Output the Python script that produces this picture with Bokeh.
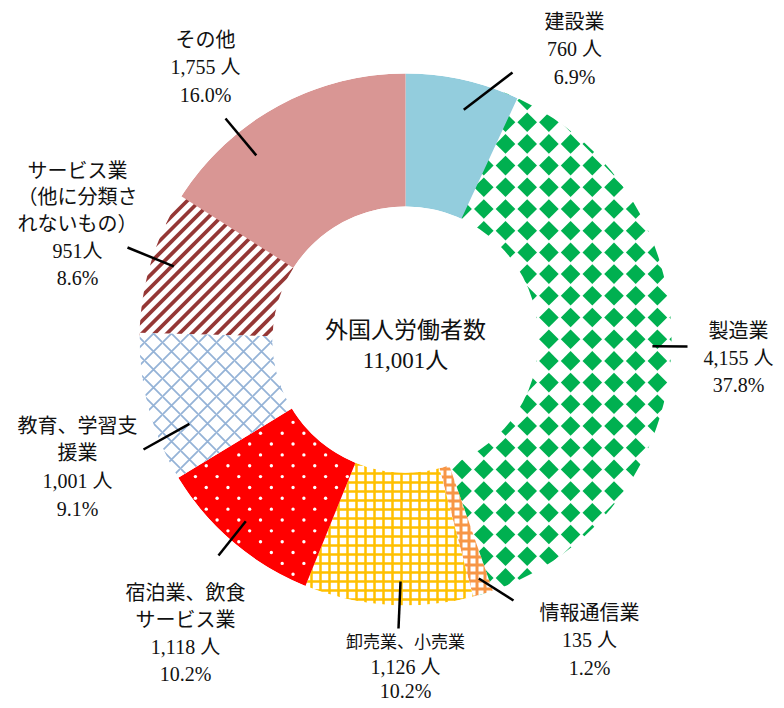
import math
from bokeh.plotting import figure
from bokeh.models import Range1d
from bokeh.core.properties import value
from bokeh.embed import file_html
from bokeh.resources import INLINE

# ---------------- data ----------------
categories = ["建設業", "製造業", "情報通信業", "卸売業、小売業",
              "宿泊業、飲食サービス業", "教育、学習支援業",
              "サービス業（他に分類されないもの）", "その他"]
workers = [760, 4155, 135, 1126, 1118, 1001, 951, 1755]
name_lines = [["建設業"], ["製造業"], ["情報通信業"], ["卸売業、小売業"],
              ["宿泊業、飲食", "サービス業"], ["教育、学習支", "援業"],
              ["サービス業", "（他に分類さ", "れないもの）"], ["その他"]]
unit_sep = [" ", " ", " ", " ", " ", " ", "", " "]
center_title = "外国人労働者数"
unit = "人"

# ---------------- layout / style ----------------
W, H = 776, 700
def sy(y):
    return H - y

CXS, CYS = 405, 339          # centre in screen pixels
CX, CY = CXS, sy(CYS)
R_OUT, R_IN = 266, 133
FONT = "Liberation Serif, Noto Sans CJK JP"
TXT = "#111111"

label_pos = [(574, 21), (738, 330), (589, 612), (405, 642),
             (185, 592), (77, 425), (77, 170), (205, 39)]
label_gap = [27.5, 27.0, 27.5, 24.0, 27.0, 27.7, 26.8, 27.5]
first_size = ["20px", "20px", "20px", "17px", "20px", "20px", "20px", "20px"]
leader_off = [1.8, -1.3, -0.1, -2.5, 0.9, -6.4, 0.5, -10.3]
leader_r = [237, 247, 250, 242, 242, 232, 243, 237]
leader_end = [(512, 72), (687, 346), (513, 600), (398, 628),
              (218, 555), (143, 449), (127, 247), (225, 118)]

styles = [
    dict(kind="solid", fill="#93CDDD"),
    dict(kind="diamond", fill="#FFFFFF", pc="#00B050", step=21.7, ox=526.7, oy=121.7, half=9.8),
    dict(kind="hatch", fill="#FFFFFF", pat="cross", pc="#F79646", hs=8, hw=3),
    dict(kind="hatch", fill="#FFFFFF", pat="cross", pc="#FFC000", hs=9, hw=2.5),
    dict(kind="dots", fill="#FF0000", pc="#FFFFFF", step=21.7, ox=260.0, oy=432.7, rad=1.7),
    dict(kind="hatch", fill="#FFFFFF", pat="diagonal_cross", pc="#95B3D7", hs=18, hw=1.8),
    dict(kind="stripes", fill="#FFFFFF", pc="#953735", step=12.5, lw=3.8),
    dict(kind="solid", fill="#D99694"),
]

p = figure(width=W, height=H, output_backend="svg", toolbar_location=None,
           x_range=Range1d(0, W), y_range=Range1d(0, H),
           min_border=0, outline_line_color=None)
p.axis.visible = False
p.grid.visible = False
p.background_fill_color = "white"
p.border_fill_color = "white"

total = sum(workers)
fr0, fr1 = [], []
cum = 0
for v in workers:
    fr0.append(cum / total)
    cum += v
    fr1.append(cum / total)


def inside(xs, ys, i, pad=0.0):
    dx, dy = xs - CXS, ys - CYS
    r = math.hypot(dx, dy)
    if r < R_IN + pad or r > R_OUT - pad:
        return False
    a = (math.atan2(dx, -dy) / (2 * math.pi)) % 1.0
    return fr0[i] <= a <= fr1[i]


def wedge(i):
    st = styles[i]
    kw = dict(x=CX, y=CY, inner_radius=R_IN, outer_radius=R_OUT,
              start_angle=math.pi / 2 - 2 * math.pi * fr0[i],
              end_angle=math.pi / 2 - 2 * math.pi * fr1[i],
              direction="clock", fill_color=st["fill"], line_color=None)
    if st["kind"] == "hatch":
        kw.update(hatch_pattern=st["pat"], hatch_color=st["pc"],
                  hatch_scale=st["hs"], hatch_weight=st["hw"])
    p.annular_wedge(**kw)


def near(xs, ys, i, reach):
    for ddx in (-reach, 0, reach):
        for ddy in (-reach, 0, reach):
            if inside(xs + ddx, ys + ddy, i):
                return True
    return False


def diamonds(i):
    st = styles[i]
    s, h = st["step"], st["half"]
    xs_, ys_ = [], []
    ni = int(2 * R_OUT / s) + 3
    i0 = math.floor((CXS - R_OUT - st["ox"]) / s) - 1
    j0 = math.floor((CYS - R_OUT - st["oy"]) / s) - 1
    for a in range(i0, i0 + ni):
        for b in range(j0, j0 + ni):
            x = st["ox"] + a * s
            y = st["oy"] + b * s
            if near(x, y, i, h):
                xs_.append(x)
                ys_.append(sy(y))
    p.scatter(xs_, ys_, marker="square", size=h * math.sqrt(2), angle=math.pi / 4,
              fill_color=st["pc"], line_color=None)


def stripes(i):
    st = styles[i]
    s, lw = st["step"], st["lw"]
    x0s, y0s, x1s, y1s = [], [], [], []
    cmin, cmax = CXS + CYS - 2 * R_OUT, CXS + CYS + 2 * R_OUT
    c = cmin
    while c <= cmax:
        run = None
        x = CXS - R_OUT - 5
        while x <= CXS + R_OUT + 5:
            y = c - x
            ok = inside(x, y, i)
            if ok and run is None:
                run = x
            if (not ok) and run is not None:
                xa, xb = run - 3, x + 3
                x0s.append(xa); y0s.append(sy(c - xa))
                x1s.append(xb); y1s.append(sy(c - xb))
                run = None
            x += 0.25
        c += s
    p.segment(x0s, y0s, x1s, y1s, line_color=st["pc"], line_width=lw, line_cap="butt")


def dots(i):
    st = styles[i]
    s, rad = st["step"], st["rad"]
    xs_, ys_ = [], []
    ni = int(2 * R_OUT / s) + 3
    for off in (0.0, s / 2):
        i0 = math.floor((CXS - R_OUT - st["ox"]) / s) - 1
        j0 = math.floor((CYS - R_OUT - st["oy"]) / s) - 1
        for a in range(i0, i0 + ni):
            for b in range(j0, j0 + ni):
                x = st["ox"] + off + a * s
                y = st["oy"] + off + b * s
                if inside(x, y, i, pad=rad + 0.5) and \
                        inside(x + rad + 0.5, y, i) and inside(x - rad - 0.5, y, i) and \
                        inside(x, y + rad + 0.5, i) and inside(x, y - rad - 0.5, i):
                    xs_.append(x)
                    ys_.append(sy(y))
    p.circle(xs_, ys_, radius=rad, fill_color=st["pc"], line_color=None)


first = [k for k, st in enumerate(styles) if st["kind"] in ("diamond", "stripes")]
for k in first:
    wedge(k)
    if styles[k]["kind"] == "diamond":
        diamonds(k)
    else:
        stripes(k)
for k, st in enumerate(styles):
    if k not in first:
        wedge(k)
        if st["kind"] == "dots":
            dots(k)

p.annulus(x=CX, y=CY, inner_radius=R_OUT, outer_radius=R_OUT + 30,
          fill_color="white", line_color=None)
p.circle(x=[CX], y=[CY], radius=R_IN, fill_color="white", line_color=None)

x0s, y0s, x1s, y1s = [], [], [], []
for i in range(len(workers)):
    mid = (fr0[i] + fr1[i]) / 2
    ang = 2 * math.pi * mid + math.radians(leader_off[i])
    x0s.append(CX + leader_r[i] * math.sin(ang))
    y0s.append(CY + leader_r[i] * math.cos(ang))
    x1s.append(leader_end[i][0])
    y1s.append(sy(leader_end[i][1]))
p.segment(x0s, y0s, x1s, y1s, line_color="black", line_width=2.5)

tx, ty, tt, ts = [], [], [], []
for i, v in enumerate(workers):
    lines = list(name_lines[i]) + [f"{v:,}{unit_sep[i]}{unit}", f"{100 * v / total:.1f}%"]
    lx, ly = label_pos[i]
    for j, s in enumerate(lines):
        tx.append(lx)
        ty.append(sy(ly + j * label_gap[i]))
        tt.append(s)
        ts.append(first_size[i] if j == 0 else "20px")
p.text(x=tx, y=ty, text=tt, text_font=value(FONT), text_font_size=ts,
       text_align="center", text_baseline="middle", text_color=TXT)

p.text(x=[CX, CX], y=[sy(330), sy(360)], text=[center_title, f"{total:,}{unit}"],
       text_font=value(FONT), text_font_size=value("23px"),
       text_align="center", text_baseline="middle", text_color=TXT)

open("out.html", "w").write(file_html(p, INLINE))
